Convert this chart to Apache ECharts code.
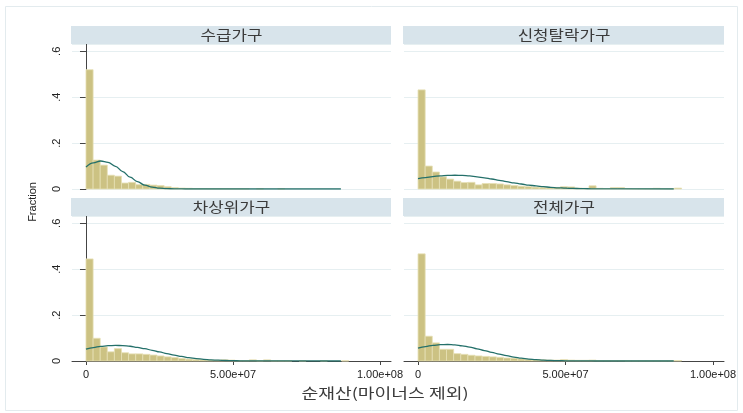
<!DOCTYPE html>
<html>
<head>
<meta charset="utf-8">
<script src="https://cdn.jsdelivr.net/npm/echarts@6/dist/echarts.min.js"></script>
<style>html,body{margin:0;padding:0;background:#fff;}#c{width:743px;height:413px;}</style>
</head>
<body>
<div id="c"></div>
<script>
// ---- data ----
const panelTitles = ['수급가구', '신청탈락가구', '차상위가구', '전체가구'];
const xTitle = '순재산(마이너스 제외)';
const yTitle = 'Fraction';
const xTickValues = [0, 5e7, 1e8];
const xTickLabels = ['0', '5.00e+07', '1.00e+08'];
const yTickValues = [0, 0.2, 0.4, 0.6];
const yTickLabels = ['0', '.2', '.4', '.6'];
const binWidth = 2.415e6;

// histogram fractions per bin (37 bins starting at 0)
const fracSugup = [0.52, 0.126, 0.104, 0.06, 0.056, 0.026, 0.029, 0.019, 0.02, 0.017, 0.015, 0.01, 0.006, 0.004, 0.003, 0.002, 0.002, 0.001, 0.001, 0.001, 0.0005, 0.0005, 0.0005, 0, 0.0005, 0, 0, 0.0005, 0, 0, 0, 0, 0, 0, 0, 0, 0];
const fracTalrak = [0.432, 0.100, 0.074, 0.053, 0.043, 0.034, 0.028, 0.029, 0.018, 0.024, 0.024, 0.022, 0.018, 0.015, 0.012, 0.010, 0.008, 0.006, 0.005, 0.007, 0.010, 0.009, 0.004, 0.003, 0.014, 0.003, 0.002, 0.006, 0.006, 0.002, 0.001, 0.001, 0.001, 0.003, 0.001, 0.001, 0.004];
const fracChasang = [0.445, 0.099, 0.061, 0.040, 0.054, 0.036, 0.031, 0.031, 0.029, 0.026, 0.022, 0.018, 0.015, 0.011, 0.008, 0.006, 0.005, 0.004, 0.003, 0.005, 0.004, 0.002, 0.002, 0.005, 0.001, 0.005, 0.001, 0.001, 0.001, 0, 0.001, 0, 0, 0.001, 0, 0, 0.001];
const fracJeonche = [0.467, 0.108, 0.079, 0.051, 0.051, 0.032, 0.029, 0.025, 0.022, 0.020, 0.018, 0.016, 0.013, 0.012, 0.009, 0.007, 0.006, 0.005, 0.004, 0.004, 0.006, 0.004, 0.003, 0.003, 0.004, 0.002, 0.002, 0.002, 0.002, 0.001, 0.001, 0.001, 0.001, 0.001, 0.001, 0.001, 0.002];

// normal-curve overlay at these x positions
const curveX = [0, 2.5e6, 5e6, 7.5e6, 1e7, 1.25e7, 1.5e7, 1.75e7, 2e7, 2.25e7, 2.5e7, 2.75e7, 3e7, 3.25e7, 3.5e7, 3.75e7, 4e7, 4.25e7, 4.5e7, 4.75e7, 5e7, 5.25e7, 5.5e7, 5.75e7, 6e7, 8.67e7];
const curveSugup = [0.096, 0.114, 0.122, 0.116, 0.099, 0.076, 0.052, 0.032, 0.017, 0.0085, 0.0038, 0.0015, 0.0005, 0.0002, 0, 0, 0, 0, 0, 0, 0, 0, 0, 0, 0, 0];
const curveTalrak = [0.045, 0.050, 0.054, 0.0575, 0.0594, 0.060, 0.059, 0.0568, 0.053, 0.0488, 0.0436, 0.038, 0.032, 0.0268, 0.0217, 0.0172, 0.0133, 0.010, 0.0073, 0.0053, 0.0037, 0.0025, 0.0017, 0.0011, 0.0007, 0];
const curveChasang = [0.052, 0.0587, 0.0636, 0.0668, 0.068, 0.0671, 0.0642, 0.0596, 0.0536, 0.0467, 0.0395, 0.0324, 0.0257, 0.0198, 0.0148, 0.0107, 0.0075, 0.0051, 0.0034, 0.0022, 0.0013, 0.0008, 0.0005, 0.0003, 0.0002, 0];
const curveJeonche = [0.056, 0.063, 0.068, 0.0712, 0.072, 0.0703, 0.066, 0.0606, 0.053, 0.0456, 0.0376, 0.030, 0.0231, 0.0172, 0.0124, 0.0086, 0.0058, 0.0038, 0.0024, 0.0015, 0.0009, 0.0005, 0.0003, 0.0002, 0.0001, 0];

const fracs = [fracSugup, fracTalrak, fracChasang, fracJeonche];
const curves = [curveSugup, curveTalrak, curveChasang, curveJeonche];

// ---- layout / style ----
const grids = [
  {left: 72, top: 44, width: 319, height: 145},
  {left: 404, top: 44, width: 320, height: 145},
  {left: 72, top: 216, width: 319, height: 145},
  {left: 404, top: 216, width: 320, height: 145}
];
const xMin = -4.76e6, xMax = 1.0374e8;
const yMax = 0.632;
const barFill = '#ccc283', barEdge = '#e6dfb4';
const lineColor = '#24706a';
const stripColor = '#d8e4eb';
const latin = '"Liberation Sans", Arial, sans-serif';
const cjk = '"Noto Sans CJK KR", sans-serif';

const chart = echarts.init(document.getElementById('c'), null, {renderer: 'canvas'});

const xAxes = [], yAxes = [], series = [], graphics = [];
grids.forEach((g, i) => {
  const bottom = i >= 2, left = (i % 2) === 0;
  xAxes.push({
    type: 'value', gridIndex: i, min: xMin, max: xMax,
    axisLine: {show: bottom, onZero: false, lineStyle: {color: '#444', width: 1}},
    axisTick: {show: bottom, length: 4, customValues: xTickValues, lineStyle: {color: '#444'}},
    axisLabel: {show: bottom, customValues: xTickValues, margin: 8, fontSize: 11, color: '#222', fontFamily: latin,
      formatter: v => { const k = xTickValues.indexOf(v); return k >= 0 ? xTickLabels[k] : ''; }},
    splitLine: {show: false}
  });
  yAxes.push({
    type: 'value', gridIndex: i, min: 0, max: yMax, interval: 0.2,
    axisLine: {show: left, lineStyle: {color: '#444', width: 1}},
    axisTick: {show: left, length: 6, lineStyle: {color: '#444'}},
    axisLabel: {show: left, rotate: 90, margin: 10, fontSize: 11, color: '#222', fontFamily: latin, showMaxLabel: false,
      formatter: v => { const k = yTickValues.findIndex(t => Math.abs(t - v) < 1e-9); return k >= 0 ? yTickLabels[k] : ''; }},
    splitLine: {show: true, lineStyle: {color: '#e6eff1', width: 1}}
  });
  series.push({
    type: 'custom', xAxisIndex: i, yAxisIndex: i,
    data: fracs[i].map((v, k) => [k * binWidth, (k + 1) * binWidth, v]),
    encode: {x: [0, 1], y: 2},
    renderItem: (params, api) => {
      if (!(api.value(2) > 0)) return null;
      const p0 = api.coord([api.value(0), 0]);
      const p1 = api.coord([api.value(1), api.value(2)]);
      return {type: 'rect', shape: {x: p0[0], y: p1[1], width: p1[0] - p0[0], height: p0[1] - p1[1]},
        style: {fill: barFill, stroke: barEdge, lineWidth: 0.8}};
    },
    z: 2
  });
  series.push({
    type: 'line', xAxisIndex: i, yAxisIndex: i,
    data: curveX.map((x, k) => [x, curves[i][k]]),
    smooth: 0.4, smoothMonotone: 'x', showSymbol: false, symbol: 'none',
    lineStyle: {color: lineColor, width: 1.3}, z: 3
  });
  // strip
  graphics.push({
    type: 'rect', shape: {x: g.left - 1, y: g.top - 18, width: g.width + 1, height: 18},
    style: {fill: stripColor}, z: 10
  });
  graphics.push({
    type: 'text', x: g.left + g.width / 2, y: g.top - 9, scaleX: 1.2,
    style: {text: panelTitles[i], align: 'center', verticalAlign: 'middle', fontSize: 14, fontFamily: cjk, fill: '#3a3a3a'},
    z: 11
  });
});

graphics.push({type: 'rect', shape: {x: 5.5, y: 6.5, width: 732, height: 404}, style: {fill: 'none', stroke: '#e3ebee', lineWidth: 1}, z: 0});
graphics.push({type: 'text', x: 33, y: 202, rotation: Math.PI / 2,
  style: {text: yTitle, align: 'center', verticalAlign: 'middle', fontSize: 11, fontFamily: latin, fill: '#222'}, z: 11});
graphics.push({type: 'text', x: 385, y: 393, scaleX: 1.3,
  style: {text: xTitle, align: 'center', verticalAlign: 'middle', fontSize: 14, fontFamily: cjk, fill: '#3a3a3a'}, z: 11});

chart.setOption({
  animation: false,
  backgroundColor: '#fff',
  grid: grids,
  xAxis: xAxes,
  yAxis: yAxes,
  series: series,
  graphic: graphics
});
</script>
</body>
</html>
